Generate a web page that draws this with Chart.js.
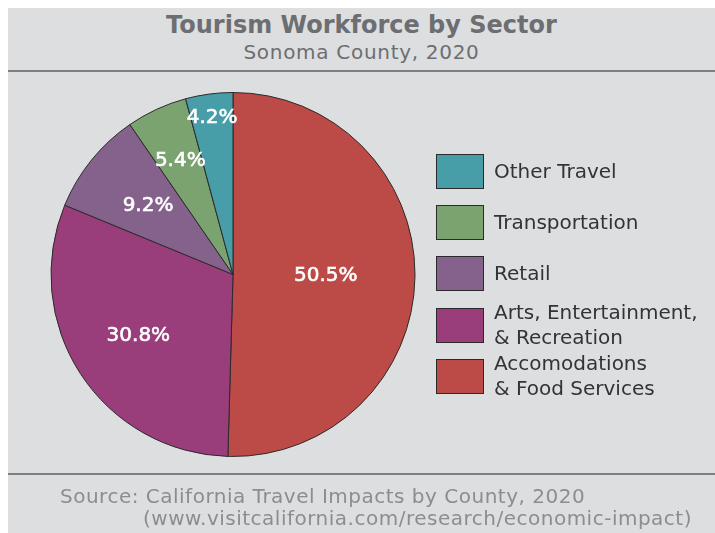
<!DOCTYPE html>
<html lang="en">
<head>
  <meta charset="utf-8">
  <title>Tourism Workforce by Sector</title>
  <script src="https://cdn.jsdelivr.net/npm/chart.js@4.4.1/dist/chart.umd.min.js"></script>
  <style>
    html, body { margin: 0; padding: 0; background: #fff; }
    body { width: 715px; height: 533px; position: relative; overflow: hidden; font-family: "DejaVu Sans", sans-serif; }
    #panel { position: absolute; left: 8px; top: 8px; width: 707px; height: 525px; background: #dddee0; }
    #chartWrap { position: absolute; left: 0; top: 0; width: 715px; height: 533px; }
    .title { position: absolute; left: 8px; width: 707px; text-align: center; color: #6d6e71; }
    #title { top: 11px; font-size: 24px; font-weight: bold; }
    #subtitle { top: 40px; font-size: 20px; letter-spacing: 0.7px; }
    .rule { position: absolute; left: 8px; width: 707px; height: 2px; background: #7d7e80; }
    #legend { position: absolute; left: 436px; top: 154px; }
    .item { position: absolute; left: 0; height: 35px; display: flex; align-items: center; white-space: nowrap; }
    .swatch { width: 46px; height: 33px; border: 1px solid #2a2a2a; flex: none; }
    .text { margin-left: 10px; font-size: 20px; line-height: 25px; color: #333; }
    .source { position: absolute; font-size: 20px; letter-spacing: 0.5px; color: #8c8d8f; white-space: nowrap; }
  </style>
</head>
<body>
  <div id="panel"></div>
  <div class="title" id="title">Tourism Workforce by Sector</div>
  <div class="title" id="subtitle">Sonoma County, 2020</div>
  <div class="rule" style="top:70px"></div>
  <div class="rule" style="top:473px"></div>
  <div id="chartWrap"><canvas id="pie" width="715" height="533"></canvas></div>
  <div id="legend"></div>
  <div class="source" style="left:60px; top:484px">Source: California Travel Impacts by County, 2020</div>
  <div class="source" style="left:143px; top:506px">(www.visitcalifornia.com/research/economic-impact)</div>

  <script>
    // data, clockwise from 12 o'clock
    const sectors = [
      ['Accomodations', '& Food Services'],
      ['Arts, Entertainment,', '& Recreation'],
      ['Retail'],
      ['Transportation'],
      ['Other Travel']
    ];
    const shares = [50.5, 30.8, 9.2, 5.4, 4.2];
    const colors = ['#bc4b48', '#9a3d7b', '#85628c', '#7aa36f', '#479ea8'];
    // how far out each % label sits (fraction of radius)
    const labelRadius = [0.51, 0.62, 0.60, 0.69, 0.87];

    // Legend (reverse order, like the original)
    const legend = document.getElementById('legend');
    sectors.slice().reverse().forEach((lines, i) => {
      const idx = sectors.length - 1 - i;
      const row = document.createElement('div');
      row.className = 'item';
      row.style.top = (i * 51.2) + 'px';
      row.innerHTML = '<div class="swatch" style="background:' + colors[idx] + '"></div>' +
        '<div class="text">' + lines.join('<br>') + '</div>';
      legend.appendChild(row);
    });

    // Percent labels inside slices
    const sliceLabels = {
      id: 'sliceLabels',
      afterDatasetsDraw(chart) {
        const ctx = chart.ctx;
        const meta = chart.getDatasetMeta(0);
        ctx.save();
        ctx.fillStyle = '#fff';
        ctx.strokeStyle = '#fff';
        ctx.lineWidth = 0.6;
        ctx.font = '20px "DejaVu Sans", sans-serif';
        ctx.textAlign = 'center';
        ctx.textBaseline = 'middle';
        meta.data.forEach((arc, i) => {
          const p = arc.getProps(['x', 'y', 'startAngle', 'endAngle', 'outerRadius'], true);
          const mid = (p.startAngle + p.endAngle) / 2;
          const r = p.outerRadius * labelRadius[i];
          const txt = shares[i].toFixed(1) + '%';
          const x = p.x + Math.cos(mid) * r, y = p.y + Math.sin(mid) * r;
          ctx.fillText(txt, x, y);
          ctx.strokeText(txt, x, y);
        });
        ctx.restore();
      }
    };

    new Chart(document.getElementById('pie'), {
      type: 'pie',
      data: {
        labels: sectors,
        datasets: [{
          data: shares,
          backgroundColor: colors,
          borderColor: '#2a2a2a',
          borderWidth: 1
        }]
      },
      options: {
        responsive: false,
        animation: false,
        radius: 182,
        layout: { padding: { left: 40, right: 289, top: 90, bottom: 74 } },
        plugins: {
          legend: { display: false },
          tooltip: { enabled: false }
        }
      },
      plugins: [sliceLabels]
    });
  </script>
</body>
</html>
